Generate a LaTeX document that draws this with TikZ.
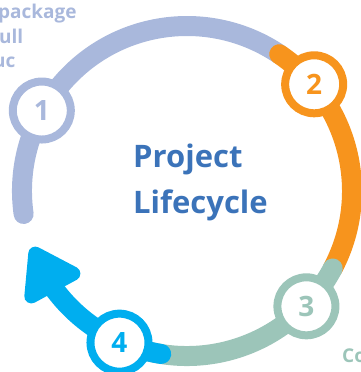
\documentclass[tikz,border=0pt]{standalone}
\usepackage{fontspec}
\setmainfont{Open Sans}
\usetikzlibrary{arrows.meta,bending}

\definecolor{lilac}{RGB}{169,184,220}
\definecolor{amber}{RGB}{247,148,29}
\definecolor{sage}{RGB}{156,197,185}
\definecolor{azure}{RGB}{0,174,239}
\definecolor{navy}{RGB}{59,115,185}

\tikzset{
  seg/.style={line width=20pt, line cap=round},
  stage/.style={circle, draw=#1, text=#1, fill=white, line width=8pt,
    minimum size=58pt, inner sep=0pt, font=\fontsize{28}{28}\selectfont\bfseries},
  side/.style={anchor=base west, inner sep=0pt, font=\fontsize{19}{19}\selectfont\bfseries}
}

\begin{document}
\begin{tikzpicture}[x=1pt,y=1pt]
\useasboundingbox (0,-372) rectangle (360,0);
\coordinate (c) at (187,-191);

\draw[seg, lilac] ([shift={(188:165)}]c) arc (188:56:165);
\draw[seg, amber] ([shift={(56:165)}]c) arc (56:-28:165);
\draw[seg, sage] ([shift={(-28:165)}]c) arc (-28:-112:165);
\draw[seg, azure, -{Triangle[length=56pt,width=70pt,round]}] ([shift={(-99:165)}]c) arc (-99:-160:165);

\node[stage=lilac] (s1) at ([shift={(151:166)}]c) {1};
\node[stage=amber] (s2) at ([shift={(40:166)}]c) {2};
\node[stage=sage] (s3) at ([shift={(-44:166)}]c) {3};
\node[stage=azure] (s4) at ([shift={(-114:166)}]c) {4};

\node[anchor=west, inner sep=0pt, align=left, text=navy,
  font=\fontsize{31}{46}\selectfont\bfseries] (title) at (133,-182) {Project\\Lifecycle};

\node[side, text=lilac] (p) at (-2,-18) {package};
\node[side, text=lilac] (q) at (-1,-43) {ull};
\node[side, text=lilac] (r) at (-7,-67) {uc};
\node[side, text=sage] (co) at (342,-362) {Co};
\end{tikzpicture}
\end{document}
